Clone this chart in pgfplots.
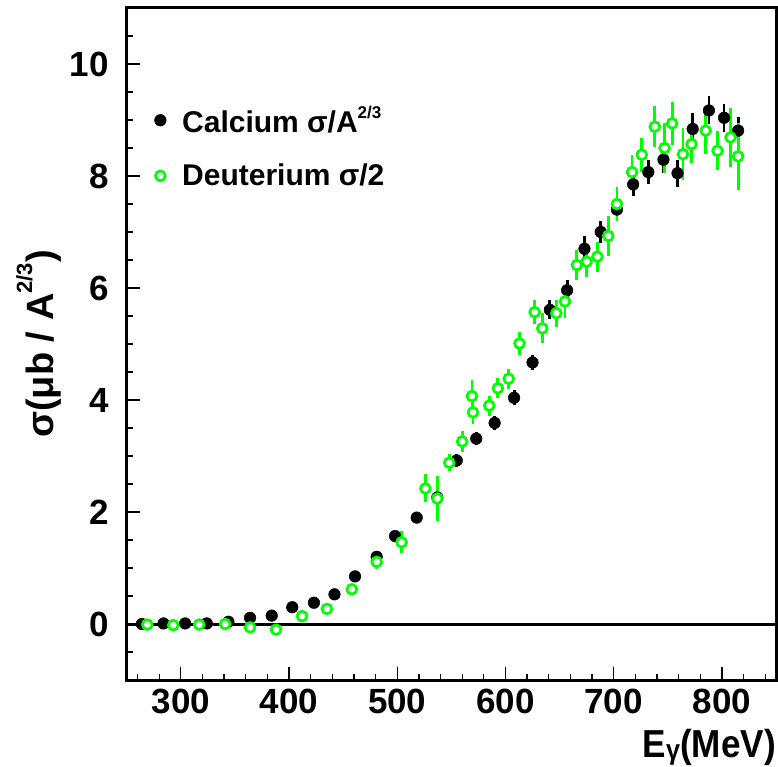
\documentclass[border=0pt]{standalone}
\usepackage{fontspec}
\setmainfont{Liberation Sans}
\usepackage{graphicx}
\usepackage{pgfplots}
\usepackage{pgfplotstable}
\pgfplotsset{compat=1.18}
\definecolor{rootgreen}{RGB}{0,255,0}
\pgfplotstableread{
x y e
264 0.00 0.02
284 0.01 0.02
304 0.01 0.02
324 0.01 0.02
344 0.04 0.03
364 0.11 0.03
384 0.15 0.03
403 0.30 0.04
423 0.38 0.04
442 0.53 0.05
461 0.85 0.06
481 1.20 0.07
498 1.57 0.08
518 1.90 0.09
537 2.26 0.10
555 2.92 0.11
573 3.31 0.11
590 3.59 0.12
608 4.04 0.13
625 4.67 0.14
641 5.61 0.17
657 5.96 0.18
673 6.70 0.22
688 7.00 0.19
703 7.40 0.20
718 7.85 0.20
732 8.07 0.22
746 8.29 0.24
759 8.05 0.24
773 8.84 0.28
788 9.17 0.25
802 9.04 0.25
815 8.81 0.25
}\calcium
\pgfplotstableread{
x y e
269 -0.01 0.02
293 -0.02 0.02
317 -0.01 0.02
341 0.00 0.03
364 -0.06 0.03
388 -0.10 0.04
412 0.14 0.05
435 0.27 0.05
458 0.62 0.08
481 1.11 0.12
504 1.46 0.20
526 2.42 0.25
537 2.24 0.40
548 2.88 0.15
560 3.26 0.18
569 4.07 0.28
570 3.78 0.20
585 3.90 0.18
593 4.21 0.18
603 4.38 0.18
613 5.01 0.20
627 5.57 0.22
634 5.28 0.27
647 5.55 0.24
655 5.76 0.29
666 6.41 0.26
675 6.47 0.28
685 6.56 0.27
695 6.93 0.36
703 7.50 0.30
717 8.07 0.30
726 8.38 0.30
738 8.88 0.37
747 8.50 0.45
754 8.94 0.39
764 8.39 0.47
772 8.57 0.34
785 8.81 0.42
796 8.45 0.35
808 8.69 0.53
815 8.35 0.60
}\deuterium
\begin{document}
\begin{tikzpicture}
\path[use as bounding box] (-126.7pt,-86pt) rectangle (651.3pt,680pt);
\begin{axis}[
  scale only axis, width=649.3pt, height=672pt,
  xmin=250, xmax=850, ymin=-1, ymax=11,
  axis line style={line width=3pt},
  tick pos=left, tick align=inside,
  xtick={300,400,...,800}, ytick={0,2,...,10},
  minor xtick={260,280,...,840}, minor ytick={-0.5,0,...,10.5},
  major tick length=13pt, minor tick length=6.5pt,
  every tick/.style={black, line width=1.3pt},
  tick label style={font=\fontsize{35}{40}\selectfont\bfseries, /pgf/number format/assume math mode=true},
  xticklabel style={anchor=north, inner sep=0pt, yshift=-9pt},
  yticklabel style={anchor=east, inner sep=0pt, xshift=-18pt},
  xlabel={\scalebox{0.9}[1]{E\raisebox{-2pt}{\fontsize{28}{28}\selectfont γ}(MeV)}},
  xlabel style={at={(axis description cs:1,-0.1146)}, anchor=base east, inner sep=0pt, font=\fontsize{39}{44}\selectfont\bfseries},
  ylabel={σ(μb / A\raisebox{0.55em}{\fontsize{22}{22}\selectfont 2/3})},
  ylabel style={at={(axis description cs:-0.1135,0.5)}, anchor=base, inner sep=0pt, font=\fontsize{38}{44}\selectfont\bfseries},
  legend style={at={(axis description cs:0.038,0.86)}, anchor=north west, draw=none, fill=none, font=\fontsize{30}{36}\selectfont\bfseries, row sep=26pt,
    /tikz/every odd column/.append style={column sep=14pt}},
  legend cell align=left,
]
\addplot[black, line width=3pt, forget plot] coordinates {(250,0) (850,0)};
\addplot[only marks, mark=*, mark size=5.8pt, black, mark options={line width=0.5pt},
  error bars/.cd, y dir=both, y explicit, error mark=none,
  error bar style={line width=2.8pt, black}]
  table[x=x, y=y, y error=e] {\calcium};
\addlegendentry{Calcium σ/A\raisebox{0.47em}{\fontsize{17}{17}\selectfont 2/3}}
\addplot[only marks, mark=*, mark size=4.9pt, rootgreen, mark options={line width=2.7pt, draw=rootgreen, fill=white},
  error bars/.cd, y dir=both, y explicit, error mark=none,
  error bar style={line width=2.8pt, rootgreen}]
  table[x=x, y=y, y error=e] {\deuterium};
\addlegendentry{Deuterium σ/2}
\end{axis}
\end{tikzpicture}
\end{document}
